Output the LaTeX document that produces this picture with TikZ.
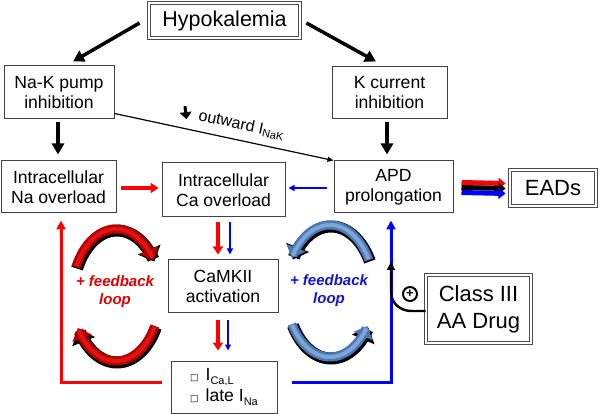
\documentclass[tikz,border=0pt]{standalone}
\usepackage{fontspec}
\setmainfont{Liberation Sans}
\newfontfamily\symfont{DejaVu Sans}
\usetikzlibrary{arrows.meta}
\definecolor{myred}{RGB}{255,0,0}
\definecolor{myblue}{RGB}{0,0,255}
\definecolor{fbred}{RGB}{225,0,0}
\definecolor{fbblue}{RGB}{20,20,210}
\definecolor{lred}{RGB}{185,0,0}
\definecolor{lredhi}{RGB}{225,20,20}
\definecolor{lblue}{RGB}{75,120,180}
\definecolor{lbluehi}{RGB}{125,165,215}
\newcommand\mysub[1]{\raisebox{-0.35ex}{\fontsize{11}{11}\selectfont #1}}
\newcommand\fbarc[6]{%
  \draw[black, line width=12pt, -{Triangle[length=13pt,width=24pt]}, shift={(1,1.5)}]
    plot[domain=#3:#4, samples=40, smooth, variable=\t] ({#1+44*cos(\t)},{#2-66*sin(\t)});
  \draw[#5, line width=9pt, -{Triangle[length=11pt,width=20pt]}]
    plot[domain=#3:#4, samples=40, smooth, variable=\t] ({#1+44*cos(\t)},{#2-66*sin(\t)});
  \draw[#6, line width=4pt, shorten >=10pt, shorten <=1pt]
    plot[domain=#3:#4, samples=40, smooth, variable=\t] ({#1+44*cos(\t)},{#2-66*sin(\t)});
}
\begin{document}
\begin{tikzpicture}[x=1pt,y=-1pt,
  box/.style={draw=black!75, line width=1pt, fill=white, inner sep=0pt, align=center,
    font=\fontsize{17.6}{20}\selectfont},
  dbox/.style={draw=black!70, double=white, double distance=1.8pt, line width=0.9pt,
    inner sep=0pt, align=center, font=\fontsize{22}{27}\selectfont},
  blackarrow/.style={line width=3.5pt, -{Triangle[length=11pt,width=12pt]}},
  thinarrow/.style={line width=1.2pt, -{Triangle[length=6pt,width=5pt]}},
  redarrow/.style={myred, line width=4pt, -{Triangle[length=8pt,width=10pt]}},
  bluethin/.style={myblue, line width=1.5pt, -{Triangle[length=6pt,width=6pt]}},
  loopline/.style={line width=3pt, -{Triangle[length=9pt,width=9pt]}},
  fbtext/.style={font=\bfseries\itshape\fontsize{15}{18}\selectfont, align=center},
]
\useasboundingbox (0,0) rectangle (600,414);

% nodes
\node[dbox, minimum width=151pt, minimum height=35pt, font=\fontsize{21.5}{25}\selectfont] (hypo) at (224.5,20.5) {Hypokalemia};
\node[box, minimum width=110pt, minimum height=53pt] (nak) at (59,92.5) {Na-K pump\\inhibition};
\node[box, minimum width=115pt, minimum height=52pt] (kcur) at (389.5,93) {K current\\inhibition};
\node[box, minimum width=115pt, minimum height=52pt] (na) at (58.5,187) {Intracellular\\Na overload};
\node[box, minimum width=123pt, minimum height=54pt] (ca) at (223.5,190) {Intracellular\\Ca overload};
\node[box, minimum width=119pt, minimum height=52pt] (apd) at (393.5,187) {APD\\prolongation};
\node[dbox, minimum width=86pt, minimum height=36pt] (eads) at (553,188) {EADs};
\node[box, minimum width=110pt, minimum height=52pt] (camk) at (223,286) {CaMKII\\activation};
\node[box, minimum width=106pt, minimum height=52pt, align=left, font=\fontsize{17.6}{21}\selectfont] (bot) at (224,387)
  {{\symfont\fontsize{9}{9}\selectfont □}\hspace{7pt}I\mysub{Ca,L}\\{\symfont\fontsize{9}{9}\selectfont □}\hspace{7pt}late I\mysub{Na}};
\node[dbox, minimum width=105pt, minimum height=68pt] (drug) at (478.5,309) {Class III\\AA Drug};

% feedback loops
\fbarc{116}{295}{155}{32}{lred}{lredhi}
\fbarc{116}{295}{-28}{-150}{lred}{lredhi}
\fbarc{330}{291}{28}{150}{lblue}{lbluehi}
\fbarc{330}{291}{-150}{-32}{lblue}{lbluehi}
\node[fbtext, text=fbred] (fbr) at (115,292) {+ feedback\\loop};
\node[fbtext, text=fbblue] (fbb) at (329,291) {+ feedback\\loop};

% top arrows
\draw[blackarrow] ([xshift=-9pt,yshift=-2.5pt]hypo.west) -- ([xshift=14pt,yshift=4pt]nak.north);
\draw[blackarrow] ([xshift=6pt,yshift=-2.5pt]hypo.east) -- ([xshift=-13.5pt,yshift=5pt]kcur.north);
\draw[blackarrow] ([xshift=-1pt,yshift=-3pt]nak.south) -- ([xshift=-0.5pt,yshift=6pt]na.north);
\draw[blackarrow] ([xshift=-2.5pt,yshift=-3pt]kcur.south) -- ([xshift=-6.5pt,yshift=6pt]apd.north);

% Na-K -> APD
\draw[thinarrow] ([yshift=6pt]nak.south east) -- (apd.north west)
  node[pos=0.565, above=4pt, sloped, font=\fontsize{16}{16}\selectfont] (lab) {outward I\mysub{NaK}};
\draw[line width=3pt, -{Triangle[length=7pt,width=12pt]}] ([xshift=-10pt,yshift=9pt]lab.west) -- ++(1.5,13);

% middle row
\draw[redarrow] ([xshift=4pt,yshift=-1pt]na.east) -- ([xshift=-3pt,yshift=2pt]ca.west);
\draw[bluethin] ([xshift=-7pt,yshift=-1pt]apd.west) -- ([xshift=3pt,yshift=2pt]ca.east);

% vertical red/blue
\draw[redarrow] ([xshift=-5.5pt,yshift=-5pt]ca.south) -- ([xshift=-5pt,yshift=5pt]camk.north);
\draw[bluethin] ([xshift=6.5pt,yshift=-5pt]ca.south) -- ([xshift=7pt,yshift=5pt]camk.north);
\draw[redarrow] ([xshift=-5pt,yshift=-7pt]camk.south) -- ([xshift=-6pt,yshift=10pt]bot.north);
\draw[bluethin] ([xshift=5pt,yshift=-7pt]camk.south) -- ([xshift=4pt,yshift=10pt]bot.north);

% L-shaped returns
\draw[loopline, myred] ([xshift=-9pt,yshift=5pt]bot.west) -| ([xshift=2.5pt,yshift=-7pt]na.south);
\draw[loopline, myblue] ([xshift=14pt,yshift=5pt]bot.east) -| ([xshift=-2.5pt,yshift=-7pt]apd.south);

% EADs triple arrow
\draw[myred, line width=5pt, -{Triangle[length=7pt,width=11pt]}] ([xshift=8pt,yshift=4.5pt]apd.east) -- ([xshift=-4pt,yshift=4.5pt]eads.west);
\draw[black, line width=5pt, -{Triangle[length=7pt,width=11pt]}] ([xshift=8pt,yshift=-0.5pt]apd.east) -- ([xshift=-4pt,yshift=-0.5pt]eads.west);
\draw[myblue, line width=5pt, -{Triangle[length=7pt,width=11pt]}] ([xshift=8pt,yshift=-5.5pt]apd.east) -- ([xshift=-4pt,yshift=-5.5pt]eads.west);

% drug arrow
\coordinate (drugtip) at (391,262);
\draw[line width=2.4pt, -{Triangle[length=8pt,width=8pt]}] ([yshift=-2pt]drug.west) -- ++(-14,0)
  .. controls (399.5,311) and (391,302.5) .. (391,292) -- (drugtip);
\node[circle, draw, line width=2pt, fill=white, inner sep=0pt, minimum size=14pt,
  font=\bfseries\fontsize{13}{13}\selectfont] (plus) at (410,294) {+};
\end{tikzpicture}
\end{document}
